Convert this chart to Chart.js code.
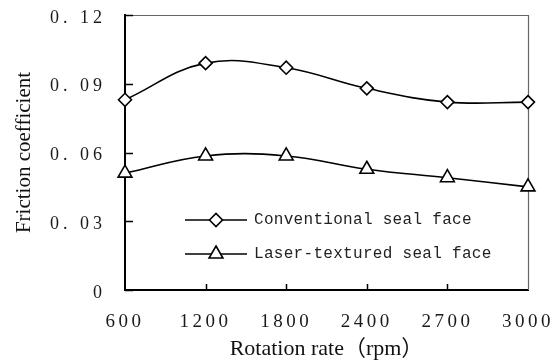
<!DOCTYPE html>
<html><head><meta charset="utf-8">
<script src="https://cdn.jsdelivr.net/npm/chart.js@4/dist/chart.umd.min.js"></script>
<style>html,body{margin:0;padding:0;background:#fff}#wrap{width:554px;height:362px}</style>
</head><body><div id="wrap"><canvas id="c" width="554" height="362"></canvas></div>
<script>
const categories = ['600', '1200', '1800', '2400', '2700', '3000'];
const conventional = [0.083, 0.099, 0.097, 0.088, 0.082, 0.082];
const laserTextured = [0.051, 0.0585, 0.0585, 0.0527, 0.049, 0.045];
const yTicks = [0, 0.03, 0.06, 0.09, 0.12];
const yTickLabels = ['0', '0. 03', '0. 06', '0. 09', '0. 12'];
const seriesNames = ['Conventional seal face', 'Laser-textured seal face'];
const xTitle = 'Rotation rate（rpm）';
const yTitle = 'Friction coefficient';

const spacingPlugin = {
  id: 'spacing',
  afterLayout(chart) {
    for (const [id, sp] of [['x', '3.5px'], ['y', '4px']]) {
      const s = chart.scales[id];
      if (s._origDrawLabels) continue;
      s._origDrawLabels = s.drawLabels;
      s.drawLabels = function (area) {
        const ctx = this.ctx;
        ctx.save();
        ctx.letterSpacing = sp;
        s._origDrawLabels.call(this, area);
        ctx.restore();
      };
    }
  }
};

const framePlugin = {
  id: 'frame',
  beforeDatasetsDraw(chart) {
    const { ctx, chartArea: a, scales: { x, y } } = chart;
    ctx.save();
    ctx.strokeStyle = '#666';
    ctx.lineWidth = 1.2;
    ctx.beginPath();
    ctx.moveTo(a.left, a.top + 0.5);
    ctx.lineTo(a.right + 0.5, a.top + 0.5);
    ctx.lineTo(a.right + 0.5, a.bottom);
    ctx.stroke();
    ctx.strokeStyle = '#000';
    ctx.lineWidth = 1.5;
    ctx.beginPath();
    yTicks.forEach(v => {
      const py = Math.round(y.getPixelForValue(v)) + 0.5;
      ctx.moveTo(a.left, py);
      ctx.lineTo(a.left + 8, py);
    });
    for (let i = 1; i < categories.length - 1; i++) {
      const px = Math.round(x.getPixelForTick(i)) + 0.5;
      ctx.moveTo(px, a.bottom);
      ctx.lineTo(px, a.bottom - 6);
    }
    ctx.stroke();
    ctx.restore();
  },
  afterDraw(chart) {
    const { ctx, chartArea: a } = chart;
    const styles = [
      { pointStyle: 'rectRot', radius: 6.5 },
      { pointStyle: 'triangle', radius: 8 }
    ];
    const rows = [a.top + 205, a.top + 239];
    ctx.save();
    seriesNames.forEach((name, i) => {
      const yy = rows[i];
      ctx.strokeStyle = '#000';
      ctx.lineWidth = 1.6;
      ctx.beginPath();
      ctx.moveTo(a.left + 60, yy);
      ctx.lineTo(a.left + 122, yy);
      ctx.stroke();
      ctx.fillStyle = '#fff';
      Chart.helpers.drawPoint(ctx, { pointStyle: styles[i].pointStyle, radius: styles[i].radius, borderWidth: 1.6, rotation: 0 }, a.left + 91, yy);
      ctx.fillStyle = '#222';
      ctx.font = '16px "Liberation Mono", monospace';
      ctx.letterSpacing = '0.3px';
      ctx.textBaseline = 'middle';
      ctx.textAlign = 'left';
      ctx.fillText(name, a.left + 129, yy);
    });
    ctx.restore();
  }
};

new Chart(document.getElementById('c'), {
  type: 'line',
  data: {
    labels: categories,
    datasets: [
      {
        label: seriesNames[0], data: conventional,
        borderColor: '#000', borderWidth: 1.6, tension: 0.4,
        pointStyle: 'rectRot', pointRadius: 6.5, pointBackgroundColor: '#fff',
        pointBorderColor: '#000', pointBorderWidth: 1.6, clip: false
      },
      {
        label: seriesNames[1], data: laserTextured,
        borderColor: '#000', borderWidth: 1.6, tension: 0.4,
        pointStyle: 'triangle', pointRadius: 8, pointBackgroundColor: '#fff',
        pointBorderColor: '#000', pointBorderWidth: 1.6, clip: false
      }
    ]
  },
  options: {
    responsive: false, animation: false, devicePixelRatio: 1,
    layout: { padding: { left: 0, right: 26, top: 15, bottom: 0 } },
    plugins: { legend: { display: false }, tooltip: { enabled: false } },
    scales: {
      x: {
        type: 'category', offset: false,
        grid: { display: false, drawTicks: false },
        border: { display: true, color: '#000', width: 2 },
        ticks: { color: '#1a1a1a', padding: 21, maxRotation: 0, autoSkip: false,
          font: { family: '"Liberation Serif", serif', size: 19 } },
        title: { display: true, text: xTitle, color: '#111',
          font: { family: '"Liberation Serif", "Noto Sans CJK SC", serif', size: 22 },
          padding: { top: 0, bottom: 0 } },
        afterFit(s) { s.height = 72; s.paddingLeft = 0; s.paddingRight = 0; }
      },
      y: {
        min: 0, max: 0.12,
        afterBuildTicks(s) { s.ticks = yTicks.map(v => ({ value: v })); },
        grid: { display: false, drawTicks: false },
        border: { display: true, color: '#000', width: 2 },
        ticks: { color: '#1a1a1a', padding: 19, labelOffset: 3,
          callback: (v, i) => yTickLabels[i],
          font: { family: '"Liberation Serif", serif', size: 18 } },
        title: { display: true, text: yTitle, color: '#111',
          font: { family: '"Liberation Serif", serif', size: 21 },
          padding: { top: 12, bottom: 0 } },
        afterFit(s) { s.width = 125; s.paddingTop = 0; s.paddingBottom = 0; }
      }
    }
  },
  plugins: [spacingPlugin, framePlugin]
});
</script></body></html>
